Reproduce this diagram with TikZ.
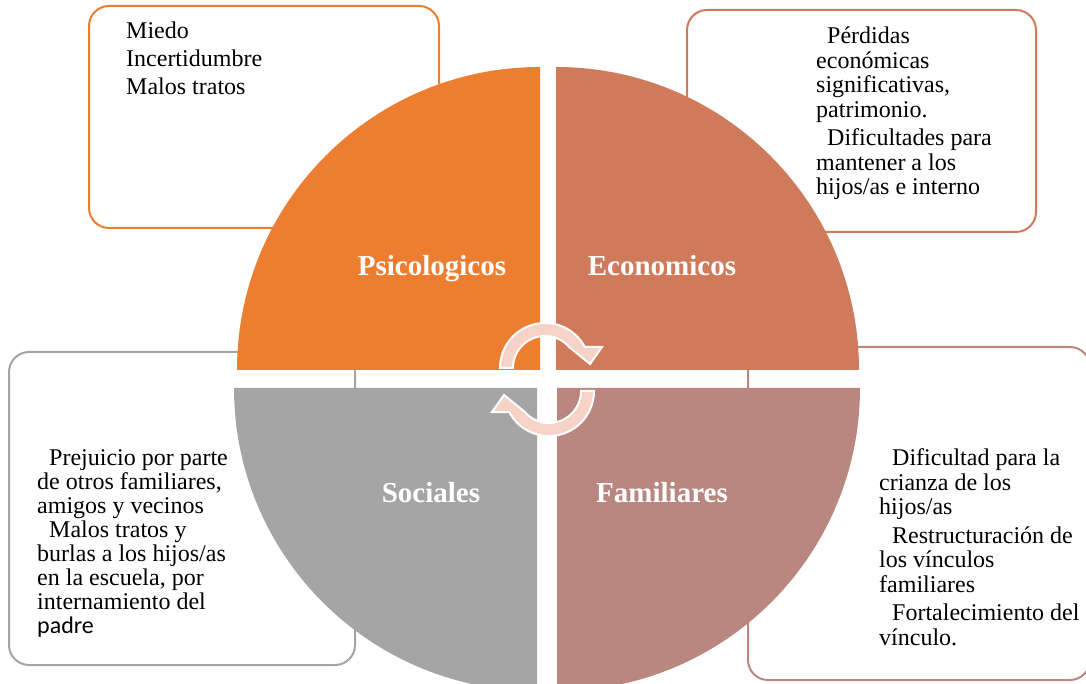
\documentclass[tikz,border=0pt]{standalone}
\usepackage{fontspec}
\setmainfont{Liberation Serif}
\newfontfamily\calibrifont{Carlito}
\usetikzlibrary{calc}
\definecolor{psiorange}{HTML}{ED7D31}
\definecolor{ecosalmon}{HTML}{D07A5C}
\definecolor{socgray}{HTML}{A5A5A5}
\definecolor{famrose}{HTML}{B9877F}
\definecolor{cyclepeach}{HTML}{F6D3C6}

\begin{document}
\begin{tikzpicture}[x=1pt, y=1pt,
    every node/.style={inner sep=0pt, anchor=base west, align=left, font=\fontsize{24}{24.5}\selectfont},
    box/.style={line width=2pt, rounded corners=20pt, fill=white},
    title/.style={anchor=base, text=white, font=\fontsize{29}{30}\selectfont\bfseries},
    cycle arrow/.style={fill=cyclepeach, draw=white, line width=2pt}]
    \useasboundingbox (0,0) rectangle (1086,683);
    \clip (0,0) rectangle (1086,683);
    \draw[box, draw=psiorange] (89,455) rectangle (439,677);
    \draw[box, draw=ecosalmon] (687,451) rectangle (1036,673);
    \draw[box, draw=socgray] (9,18) rectangle (355,331);
    \draw[box, draw=famrose] (748,3) rectangle (1090,336);
    \fill[psiorange] (540,313) -- ++(0,303) arc[start angle=90, end angle=180, radius=303] -- cycle;
    \fill[ecosalmon] (556,313) -- ++(303,0) arc[start angle=0, end angle=90, radius=303] -- cycle;
    \fill[socgray] (537,295) -- ++(-303,0) arc[start angle=180, end angle=270, radius=303] -- cycle;
    \fill[famrose] (557,295) -- ++(0,-303) arc[start angle=270, end angle=360, radius=303] -- cycle;
    \node[title] (psi) at (432,407) {Psicologicos};
    \node[title] (eco) at (662,407) {Economicos};
    \node[title] (soc) at (431,181) {Sociales};
    \node[title] (fam) at (662,181) {Familiares};
    \coordinate (topc) at (545,315);
    \coordinate (botc) at (549,292);
    \filldraw[cycle arrow] ($(topc)+(180:45)$) arc[start angle=180, end angle=28, radius=45]
        -- ($(topc)+(57,21)$) -- ($(topc)+(45,4)$)
        -- ($(topc)+(41:32)$) arc[start angle=41, end angle=180, radius=32] -- cycle;
    \filldraw[cycle arrow] ($(botc)+(0:45)$) arc[start angle=0, end angle=-152, radius=45]
        -- ($(botc)+(-57,-21)$) -- ($(botc)+(-45,-4)$)
        -- ($(botc)+(-139:32)$) arc[start angle=-139, end angle=0, radius=32] -- cycle;
    \node (psitext) at (126,588) {Miedo\\[3.5pt]Incertidumbre\\[3.5pt]Malos tratos};
    \node (ecotext) at (816,488) {\hspace*{11pt}Pérdidas\\económicas\\significativas,\\patrimonio.\\[4pt]
        \hspace*{11pt}Dificultades para\\mantener a los\\hijos/as e interno};
    \node[font=\fontsize{24}{24}\selectfont] (soctext) at (37,50) {\hspace*{12pt}Prejuicio por parte\\de otros familiares,\\amigos y vecinos\\
        \hspace*{12pt}Malos tratos y\\burlas a los hijos/as\\en la escuela, por\\internamiento del\\{\calibrifont padre}};
    \node (famtext) at (879,38) {\hspace*{13pt}Dificultad para la\\crianza de los\\hijos/as\\[4pt]
        \hspace*{13pt}Restructuración de\\los vínculos\\familiares\\[4pt]\hspace*{13pt}Fortalecimiento del\\vínculo.};
\end{tikzpicture}
\end{document}
